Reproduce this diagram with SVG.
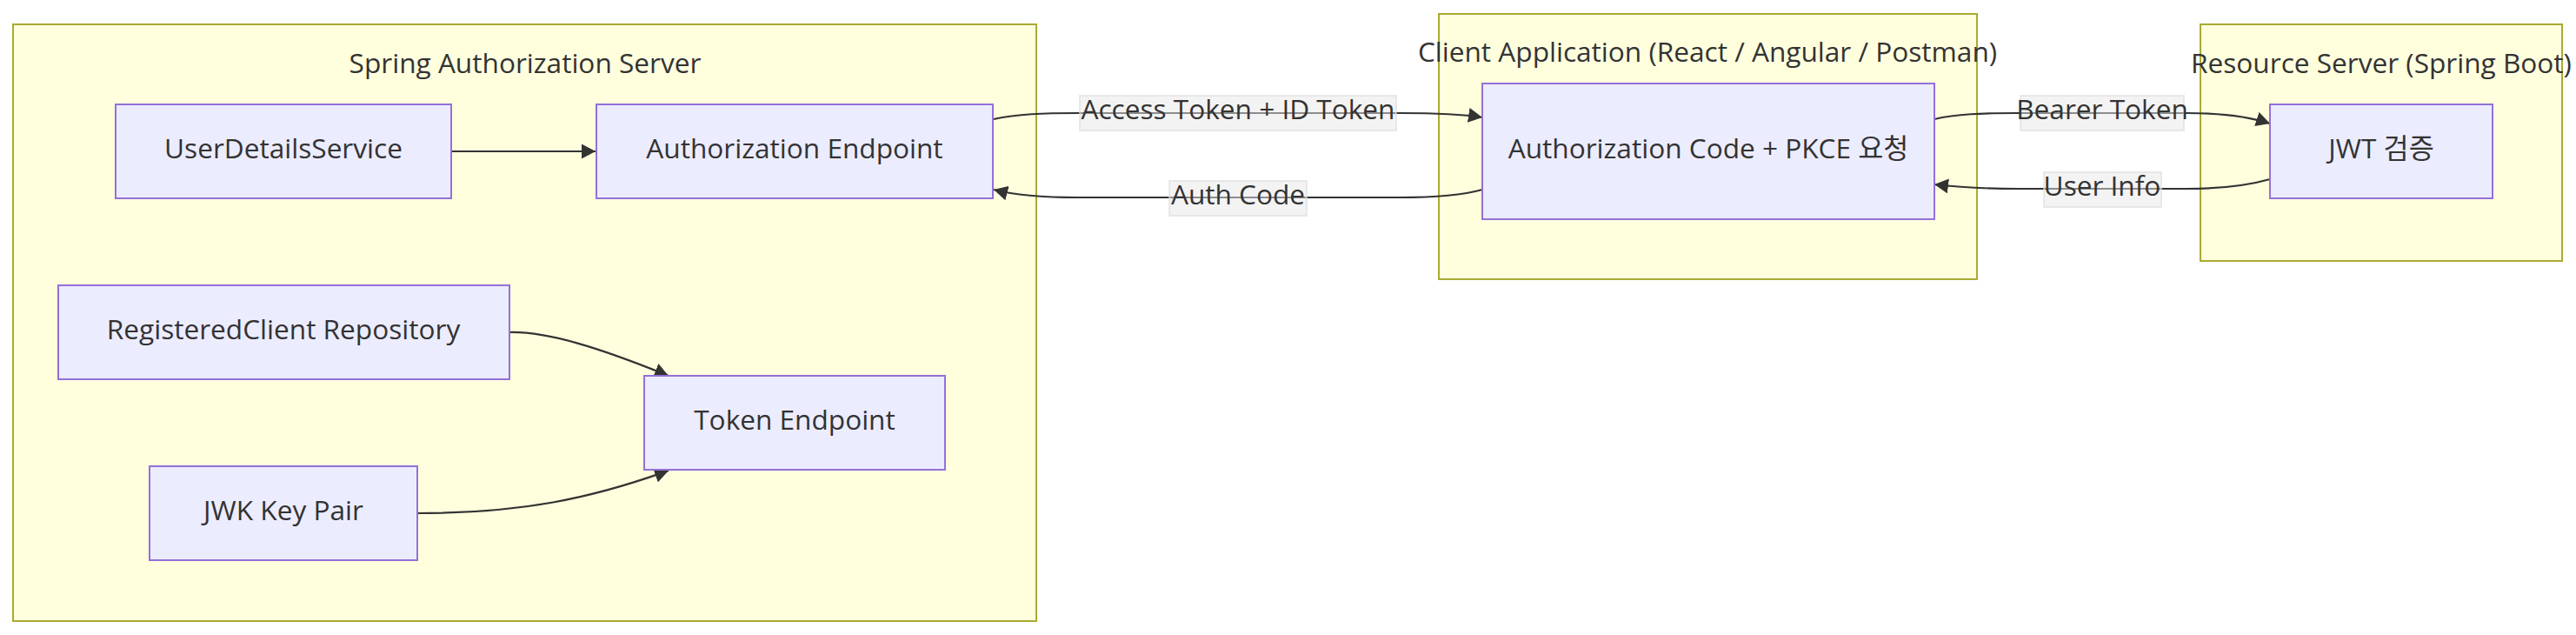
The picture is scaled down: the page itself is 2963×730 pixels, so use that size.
<svg xmlns="http://www.w3.org/2000/svg" width="2963" height="730" viewBox="0 0 2963 730">
<style>
.cluster{fill:#FFFFDE;stroke:#AAAA33;stroke-width:2}
.node rect{fill:#ECECFF;stroke:#9370DB;stroke-width:2}
text{font-family:"Open Sans","Noto Sans CJK KR",sans-serif;font-size:31.6px;fill:#333;text-anchor:middle}
.edge{fill:none;stroke:#333;stroke-width:2.2}
.lbl rect{fill:#e8e8e8;fill-opacity:0.5;stroke:#dcdcdc;stroke-opacity:0.6;stroke-width:2}
</style>
<defs>
<marker id="arrow" viewBox="0 0 10 10" refX="10" refY="5" markerWidth="16" markerHeight="17" markerUnits="userSpaceOnUse" preserveAspectRatio="none" orient="auto">
<path d="M0,0 L10,5 L0,10 z" fill="#333"/>
</marker>
</defs>
<rect width="2963" height="730" fill="#ffffff"/>
<g id="cluster-auth">
<rect class="cluster" x="15" y="28" width="1177" height="686"/>
<text x="604" y="84">Spring Authorization Server</text>
</g>
<g id="cluster-client">
<rect class="cluster" x="1655" y="16" width="619" height="305"/>
<text x="1964" y="71">Client Application (React / Angular / Postman)</text>
</g>
<g id="cluster-resource">
<rect class="cluster" x="2531" y="28" width="416" height="272"/>
<text x="2739" y="84">Resource Server (Spring Boot)</text>
</g>
<g id="connectors">
<path class="edge" d="M519,174 L685,174" marker-end="url(#arrow)"/>
<path class="edge" d="M1143,137 C1170,131 1200,130 1240,130 L1610,130 C1650,130 1680,131 1705,135" marker-end="url(#arrow)"/>
<path class="edge" d="M1705,218 C1680,225 1650,227 1610,227 L1240,227 C1200,227 1170,225 1143,218" marker-end="url(#arrow)"/>
<path class="edge" d="M2225,137 C2250,131 2280,130 2320,130 L2515,130 C2560,130 2590,135 2611,142" marker-end="url(#arrow)"/>
<path class="edge" d="M2611,206 C2590,212 2560,217 2515,217 L2320,217 C2280,217 2250,215 2225,212" marker-end="url(#arrow)"/>
<path class="edge" d="M586,382 C630,381 690,400 769,432" marker-end="url(#arrow)"/>
<path class="edge" d="M480,590 C600,590 680,573 769,541" marker-end="url(#arrow)"/>
<g class="lbl">
<rect x="1242" y="110" width="364" height="40"/>
<text x="1424" y="137">Access Token + ID Token</text>
</g>
<g class="lbl">
<rect x="1345" y="208" width="158" height="40"/>
<text x="1424" y="235">Auth Code</text>
</g>
<g class="lbl">
<rect x="2324" y="110" width="188" height="40"/>
<text x="2418" y="137">Bearer Token</text>
</g>
<g class="lbl">
<rect x="2351" y="198" width="135" height="40"/>
<text x="2418" y="225">User Info</text>
</g>
</g>
<g id="node-userdetails" class="node">
<rect x="133" y="120" width="386" height="108"/>
<text x="326" y="182">UserDetailsService</text>
</g>
<g id="node-authendpoint" class="node">
<rect x="686" y="120" width="456" height="108"/>
<text x="914" y="182">Authorization Endpoint</text>
</g>
<g id="node-regclient" class="node">
<rect x="67" y="328" width="519" height="108"/>
<text x="326" y="390">RegisteredClient Repository</text>
</g>
<g id="node-token" class="node">
<rect x="741" y="432" width="346" height="108"/>
<text x="914" y="494">Token Endpoint</text>
</g>
<g id="node-jwk" class="node">
<rect x="172" y="536" width="308" height="108"/>
<text x="326" y="598">JWK Key Pair</text>
</g>
<g id="node-pkce" class="node">
<rect x="1705" y="96" width="520" height="156"/>
<text x="1965" y="182">Authorization Code + PKCE 요청</text>
</g>
<g id="node-jwt" class="node">
<rect x="2611" y="120" width="256" height="108"/>
<text x="2739" y="182">JWT 검증</text>
</g>
</svg>
